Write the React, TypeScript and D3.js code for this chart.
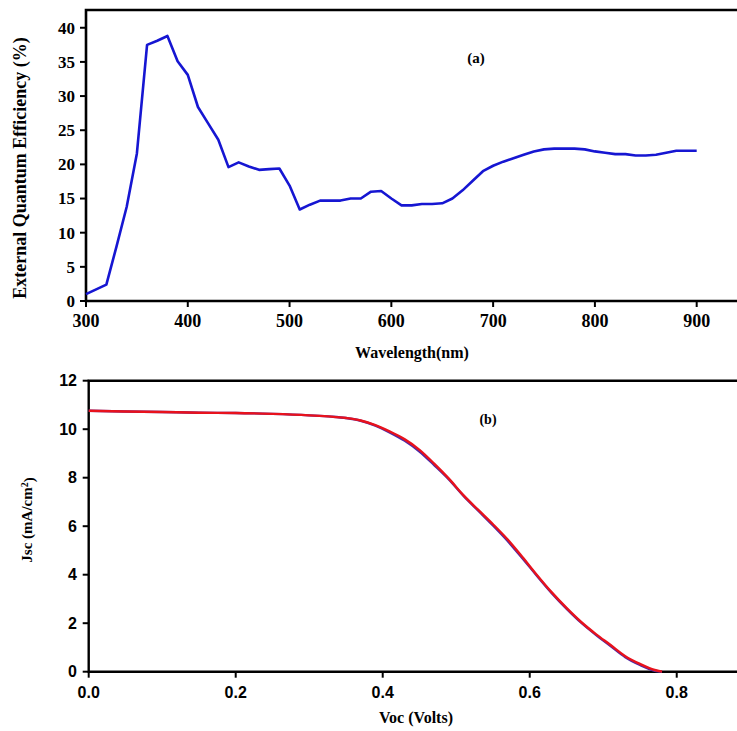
import React, { useEffect, useRef } from "react";
import * as d3 from "d3";

// (a) EQE spectrum
const wavelengths = [
  300, 320, 330, 340, 350, 360, 370, 380, 390, 400, 410, 420, 430, 440, 450, 460, 470, 480, 490,
  500, 510, 520, 530, 540, 550, 560, 570, 580, 590, 600, 610, 620, 630, 640, 650, 660, 670, 680,
  690, 700, 710, 720, 730, 740, 750, 760, 770, 780, 790, 800, 810, 820, 830, 840, 850, 860, 870,
  880, 890, 900,
];
const eqe = [
  1.0, 2.4, 8.0, 13.8, 21.6, 37.5, 38.1, 38.8, 35.1, 33.1, 28.4, 26.0, 23.6, 19.6, 20.3, 19.7,
  19.2, 19.3, 19.4, 16.9, 13.4, 14.1, 14.7, 14.7, 14.7, 15.0, 15.0, 16.0, 16.1, 15.0, 14.0, 14.0,
  14.2, 14.2, 14.3, 15.0, 16.2, 17.6, 19.0, 19.8, 20.4, 20.9, 21.4, 21.9, 22.2, 22.3, 22.3, 22.3,
  22.2, 21.9, 21.7, 21.5, 21.5, 21.3, 21.3, 21.4, 21.7, 22.0, 22.0, 22.0,
];
const eqeTicksX = [300, 400, 500, 600, 700, 800, 900];
const eqeTicksY = [0, 5, 10, 15, 20, 25, 30, 35, 40];

// (b) J-V curves
const voltage = [
  0.0, 0.05, 0.1, 0.15, 0.2, 0.25, 0.3, 0.33, 0.35, 0.37, 0.39, 0.41, 0.43, 0.45, 0.47, 0.49, 0.51,
  0.53, 0.55, 0.57, 0.59, 0.61, 0.63, 0.65, 0.67, 0.69, 0.71, 0.73, 0.75, 0.77, 0.78,
];
const jscRed = [
  10.76, 10.73, 10.71, 10.68, 10.67, 10.63, 10.57, 10.52, 10.46, 10.36, 10.17, 9.9, 9.58, 9.15,
  8.58, 7.96, 7.27, 6.67, 6.08, 5.45, 4.73, 3.98, 3.27, 2.63, 2.05, 1.55, 1.1, 0.64, 0.32, 0.07, 0.0,
];
const jscBlue = [
  10.76, 10.73, 10.71, 10.68, 10.67, 10.63, 10.57, 10.52, 10.46, 10.35, 10.15, 9.86, 9.52, 9.08,
  8.52, 7.93, 7.25, 6.64, 6.03, 5.39, 4.68, 3.95, 3.24, 2.6, 2.02, 1.52, 1.06, 0.6, 0.28, 0.04, 0.0,
];
const jvTicksX = [0, 0.2, 0.4, 0.6, 0.8];
const jvTicksY = [0, 2, 4, 6, 8, 10, 12];

const W = 737;
const H = 731;
const serif = "'Liberation Serif', 'Times New Roman', serif";
const sans = "'Liberation Sans', Arial, sans-serif";

const App = () => {
  const ref = useRef<SVGSVGElement | null>(null);

  useEffect(() => {
    const svg = d3.select(ref.current);
    svg.selectAll("*").remove();
    svg.append("rect").attr("width", W).attr("height", H).attr("fill", "white");

    // ---------- panel (a) ----------
    const xa = d3.scaleLinear().domain([300, 940]).range([86, 737.4]);
    const ya = d3.scaleLinear().domain([0, 42.6]).range([301, 10]);

    const ga = svg.append("g");
    // frame
    ga.append("path")
      .attr("d", `M${xa(940) + 5},${ya(42.6)}H${xa(300)}V${ya(0)}H${xa(940) + 5}`)
      .attr("fill", "none")
      .attr("stroke", "black")
      .attr("stroke-width", 2.6);

    ga.selectAll(".xt")
      .data(eqeTicksX)
      .enter()
      .append("line")
      .attr("x1", (d) => xa(d))
      .attr("x2", (d) => xa(d))
      .attr("y1", ya(0))
      .attr("y2", ya(0) + 6)
      .attr("stroke", "black")
      .attr("stroke-width", 2);
    ga.selectAll(".xl")
      .data(eqeTicksX)
      .enter()
      .append("text")
      .attr("x", (d) => xa(d))
      .attr("y", 327)
      .attr("text-anchor", "middle")
      .style("font-family", serif)
      .style("font-weight", "bold")
      .style("font-size", "18px")
      .text((d) => d);

    ga.selectAll(".yt")
      .data(eqeTicksY)
      .enter()
      .append("line")
      .attr("x1", xa(300) - 6)
      .attr("x2", xa(300))
      .attr("y1", (d) => ya(d))
      .attr("y2", (d) => ya(d))
      .attr("stroke", "black")
      .attr("stroke-width", 2);
    ga.selectAll(".yl")
      .data(eqeTicksY)
      .enter()
      .append("text")
      .attr("x", 75)
      .attr("y", (d) => ya(d))
      .attr("dy", "0.35em")
      .attr("text-anchor", "end")
      .style("font-family", serif)
      .style("font-weight", "bold")
      .style("font-size", "17px")
      .text((d) => d);

    const lineA = d3
      .line<number>()
      .x((d, i) => xa(wavelengths[i]))
      .y((d) => ya(d));
    ga.append("path")
      .datum(eqe)
      .attr("d", lineA)
      .attr("fill", "none")
      .attr("stroke", "#1616d2")
      .attr("stroke-width", 2.6)
      .attr("stroke-linejoin", "round");

    ga.append("text")
      .attr("x", 476)
      .attr("y", 63)
      .attr("text-anchor", "middle")
      .style("font-family", serif)
      .style("font-weight", "bold")
      .style("font-size", "15px")
      .text("(a)");
    ga.append("text")
      .attr("x", 412)
      .attr("y", 358)
      .attr("text-anchor", "middle")
      .style("font-family", serif)
      .style("font-weight", "bold")
      .style("font-size", "16px")
      .text("Wavelength(nm)");
    ga.append("text")
      .attr("transform", "translate(26,168) rotate(-90)")
      .attr("text-anchor", "middle")
      .style("font-family", serif)
      .style("font-weight", "bold")
      .style("font-size", "18px")
      .text("External Quantum Efficiency (%)");

    // ---------- panel (b) ----------
    const xb = d3.scaleLinear().domain([0, 0.882]).range([88.7, 737]);
    const yb = d3.scaleLinear().domain([0, 12]).range([671.7, 380.7]);

    const gb = svg.append("g");
    gb.append("path")
      .attr("d", `M${xb(0.882) + 5},${yb(12)}H${xb(0)}V${yb(0)}H${xb(0.882) + 5}`)
      .attr("fill", "none")
      .attr("stroke", "black")
      .attr("stroke-width", 2.4);

    gb.selectAll(".xt")
      .data(jvTicksX)
      .enter()
      .append("line")
      .attr("x1", (d) => xb(d))
      .attr("x2", (d) => xb(d))
      .attr("y1", yb(0))
      .attr("y2", yb(0) + 6)
      .attr("stroke", "black")
      .attr("stroke-width", 2);
    gb.selectAll(".xl")
      .data(jvTicksX)
      .enter()
      .append("text")
      .attr("x", (d) => xb(d))
      .attr("y", 698)
      .attr("text-anchor", "middle")
      .style("font-family", sans)
      .style("font-weight", "bold")
      .style("font-size", "16px")
      .text((d) => d3.format(".1f")(d));

    gb.selectAll(".yt")
      .data(jvTicksY)
      .enter()
      .append("line")
      .attr("x1", xb(0) - 6)
      .attr("x2", xb(0))
      .attr("y1", (d) => yb(d))
      .attr("y2", (d) => yb(d))
      .attr("stroke", "black")
      .attr("stroke-width", 2);
    gb.selectAll(".yl")
      .data(jvTicksY)
      .enter()
      .append("text")
      .attr("x", 77)
      .attr("y", (d) => yb(d))
      .attr("dy", "0.36em")
      .attr("text-anchor", "end")
      .style("font-family", sans)
      .style("font-weight", "bold")
      .style("font-size", "16px")
      .text((d) => d);

    const lineB = (vals: number[]) =>
      d3
        .line<number>()
        .x((d, i) => xb(voltage[i]))
        .y((d) => yb(d))
        .curve(d3.curveMonotoneX)(vals);

    gb.append("path")
      .attr("d", lineB(jscBlue))
      .attr("fill", "none")
      .attr("stroke", "#4a2aa8")
      .attr("stroke-width", 2.4);
    gb.append("path")
      .attr("d", lineB(jscRed))
      .attr("fill", "none")
      .attr("stroke", "#e8121c")
      .attr("stroke-width", 2.4);

    gb.append("text")
      .attr("x", 488)
      .attr("y", 424)
      .attr("text-anchor", "middle")
      .style("font-family", serif)
      .style("font-weight", "bold")
      .style("font-size", "14px")
      .text("(b)");
    gb.append("text")
      .attr("x", 416)
      .attr("y", 723)
      .attr("text-anchor", "middle")
      .style("font-family", serif)
      .style("font-weight", "bold")
      .style("font-size", "16px")
      .text("Voc (Volts)");

    const jl = gb
      .append("text")
      .attr("transform", "translate(32,520) rotate(-90)")
      .attr("text-anchor", "middle")
      .style("font-family", serif)
      .style("font-weight", "bold")
      .style("font-size", "15px");
    jl.append("tspan").text("Jsc (mA/cm");
    jl.append("tspan").attr("dy", "-0.45em").style("font-size", "10px").text("2");
    jl.append("tspan").attr("dy", "0.45em").text(")");
  }, []);

  return (
    <div style={{ position: "absolute", left: 0, top: 0 }}>
      <svg ref={ref} width={W} height={H} style={{ display: "block" }} />
    </div>
  );
};

export default App;
